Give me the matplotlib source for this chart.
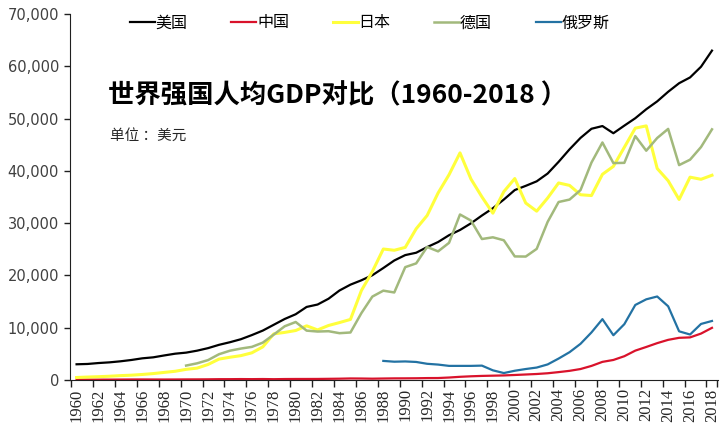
import numpy as np
import matplotlib
matplotlib.use('Agg')
from matplotlib import pyplot as plt

plt.rcParams['font.family'] = ['Noto Sans CJK SC', 'DejaVu Sans']

#---------------------------------------- DATA -------------------------------------------#

years = list(range(1960, 2019))

# 美国 1960-2018
usa = [3007, 3067, 3244, 3375, 3574, 3828, 4146, 4336, 4696, 5032,
       5234, 5609, 6094, 6726, 7226, 7801, 8592, 9453, 10565, 11674,
       12575, 13976, 14434, 15544, 17121, 18237, 19071, 20039, 21417, 22857,
       23889, 24342, 25419, 26387, 27695, 28691, 29968, 31459, 32854, 34516,
       36330, 37134, 37998, 39490, 41725, 44123, 46302, 48050, 48570, 47195,
       48651, 50066, 51784, 53291, 55124, 56763, 57867, 59915, 62997]

# 中国 1960-2018
china = [90, 76, 71, 74, 86, 99, 104, 97, 92, 100,
         113, 119, 132, 157, 160, 178, 165, 185, 156, 184,
         195, 197, 203, 225, 251, 295, 282, 252, 284, 311,
         318, 333, 367, 377, 474, 610, 709, 782, 829, 873,
         959, 1053, 1149, 1289, 1509, 1753, 2099, 2694, 3468, 3832,
         4550, 5618, 6317, 7051, 7679, 8067, 8148, 8879, 9977]

# 日本 1960-2018
japan = [479, 564, 634, 718, 836, 919, 1059, 1229, 1451, 1669,
         2037, 2272, 2967, 3997, 4354, 4659, 5197, 6335, 8821, 9105,
         9463, 10361, 9578, 10425, 10985, 11585, 17112, 20745, 25051, 24813,
         25359, 28925, 31465, 35766, 39269, 43440, 38437, 35022, 31903, 36027,
         38532, 33846, 32289, 34808, 37689, 37218, 35434, 35275, 39339, 40855,
         44508, 48168, 48603, 40454, 38109, 34524, 38794, 38387, 39159]

# 德国 1970-2018
germany_years = list(range(1970, 2019))
germany = [2761, 3188, 3805, 4928, 5605, 6012, 6335, 7148, 8686, 10279,
           11090, 9443, 9269, 9331, 8954, 9087, 12797, 15953, 17086, 16741,
           21584, 22304, 25443, 24602, 26237, 31658, 30487, 26964, 27290, 26725,
           23636, 23608, 25079, 30244, 34044, 34507, 36324, 41587, 45427, 41486,
           41532, 46645, 43858, 46286, 48024, 41103, 42136, 44553, 47939]

# 俄罗斯 1988-2018
russia_years = list(range(1988, 2019))
russia = [3650, 3500, 3550, 3450, 3100, 2950, 2700, 2700, 2700, 2750,
          1850, 1330, 1770, 2100, 2380, 2980, 4100, 5320, 6920, 9100,
          11640, 8560, 10680, 14350, 15430, 15970, 14100, 9310, 8700, 10720,
          11290]

tick_years = list(range(1960, 2019, 2))

#---------------------------------------- PLOT -------------------------------------------#

fig = plt.figure(figsize=(7.2, 4.4), dpi=100)
ax = fig.add_axes([70 / 720, 1 - 380 / 440, 648 / 720, 366 / 440])

ax.plot(years, usa, color='#000000', lw=1.6, label='美国')
ax.plot(years, china, color='#d9122b', lw=1.6, label='中国')
ax.plot(years, japan, color='#ffff3c', lw=2.2, label='日本')
ax.plot(germany_years, germany, color='#a2b97c', lw=1.8, label='德国')
ax.plot(russia_years, russia, color='#2372a3', lw=1.6, label='俄罗斯')

ax.set_xlim(1959.4, 2018.55)
ax.set_ylim(0, 70000)

ax.set_yticks(range(0, 70001, 10000))
ax.set_yticklabels(['{:,}'.format(v) for v in range(0, 70001, 10000)],
                   fontsize=10.5, color='#404040', family='DejaVu Sans')

# Labels sit on the even years, tick marks fall between the categories (Excel style)
ax.set_xticks(tick_years)
ax.set_xticklabels([str(y) for y in tick_years], rotation=90,
                   fontsize=12, color='#262626', family='Liberation Serif')
ax.set_xticks([y - 0.5 for y in tick_years] + [2018.5], minor=True)

ax.spines['top'].set_visible(False)
ax.spines['right'].set_visible(False)
ax.spines['left'].set_color('#202020')
ax.spines['bottom'].set_color('#202020')
ax.tick_params(axis='y', direction='out', length=4, width=1, color='#202020', pad=4)
ax.tick_params(axis='x', which='major', length=0, pad=6)
ax.tick_params(axis='x', which='minor', direction='out', length=5, width=1, color='#202020')

# Legend across the top of the plot
fig.legend(loc='center left', bbox_to_anchor=(130 / 720, 1 - 23 / 440), ncol=5,
           frameon=False, fontsize=11.5, handlelength=1.55, handletextpad=0.05,
           columnspacing=2.75, borderaxespad=0, borderpad=0)

# Title and unit note inside the chart
fig.text(108 / 720, 1 - 96 / 440, '世界强国人均GDP对比（1960-2018 ）',
         fontsize=19, fontweight='bold', va='center', ha='left', color='#000000')
fig.text(110 / 720, 1 - 136 / 440, '单位 ：美元', fontsize=10.5,
         va='center', ha='left', color='#262626')

fig.savefig('out.png', dpi=100)
